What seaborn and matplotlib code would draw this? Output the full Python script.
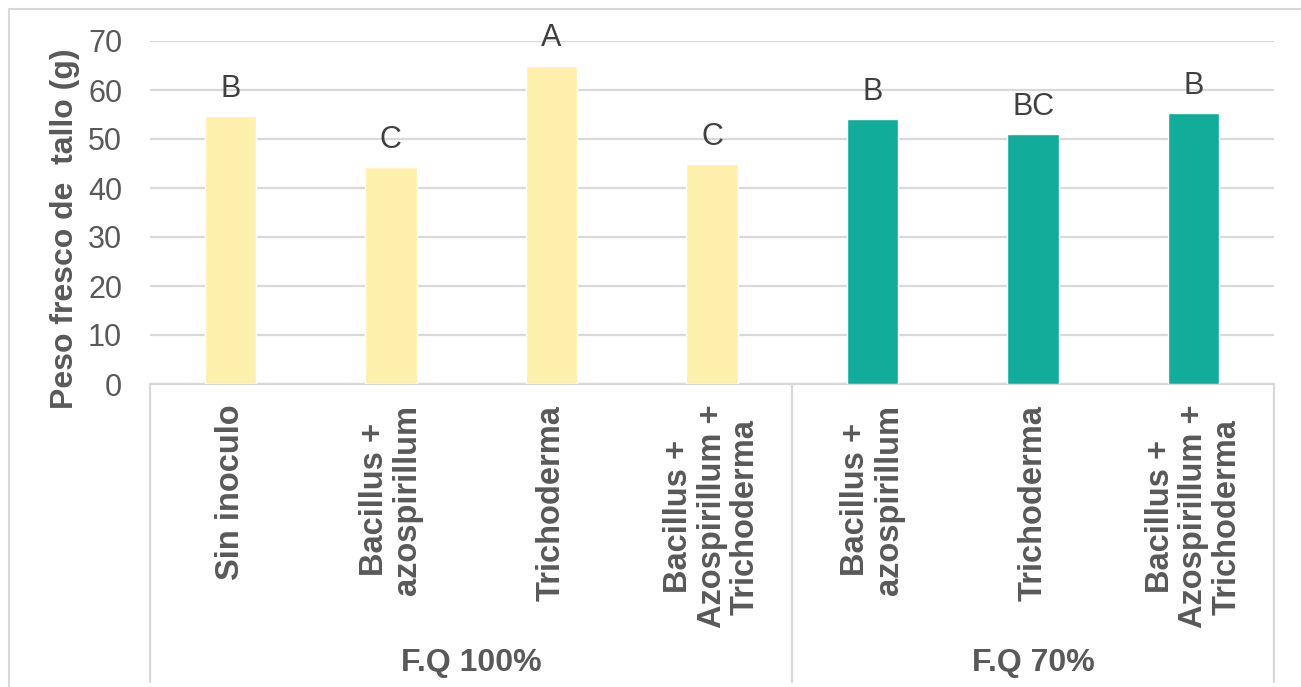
import matplotlib
matplotlib.use("Agg")
import matplotlib.pyplot as plt
import matplotlib.transforms as mtransforms
from matplotlib.patches import Rectangle
import seaborn as sns
import pandas as pd

# Treatments, fertilisation level and fresh stem weight (g)
treatments = [
    "Sin inoculo",
    "Bacillus +\nazospirillum",
    "Trichoderma",
    "Bacillus +\nAzospirillum +\nTrichoderma",
    "Bacillus +\nazospirillum",
    "Trichoderma",
    "Bacillus +\nAzospirillum +\nTrichoderma",
]
groups = ["F.Q 100%", "F.Q 100%", "F.Q 100%", "F.Q 100%", "F.Q 70%", "F.Q 70%", "F.Q 70%"]
peso = [54.7, 44.3, 65.0, 44.8, 54.1, 51.0, 55.3]
letras = ["B", "C", "A", "C", "B", "BC", "B"]
group_names = ["F.Q 100%", "F.Q 70%"]
y_ticks = [0, 10, 20, 30, 40, 50, 60, 70]

YELLOW = "#FFEFAD"
TEAL = "#12AC9A"
GRID = "#D9D9D9"
TXT = "#595959"
LETTER = "#404040"

df = pd.DataFrame({
    "pos": [str(i) for i in range(len(treatments))],
    "peso": peso,
    "grupo": groups,
})

sns.set_theme(style="white")
plt.rcParams["font.family"] = ["Liberation Sans", "DejaVu Sans"]

W, H = 1301, 687
fig = plt.figure(figsize=(W / 100, H / 100), dpi=100)
ax = fig.add_axes([150 / W, 1 - 384 / H, (1274 - 150) / W, (384 - 41) / H])

sns.barplot(
    data=df, x="pos", y="peso", hue="grupo", order=df["pos"].tolist(),
    hue_order=group_names, palette=[YELLOW, TEAL], dodge=False,
    width=0.32, saturation=1, legend=False, ax=ax, zorder=3,
)

ax.set_ylim(0, 70)
ax.set_xlim(-0.5, len(treatments) - 0.5)
ax.set_yticks(y_ticks)
ax.set_yticklabels([str(v) for v in y_ticks])
ax.yaxis.grid(True, color=GRID, linewidth=1.6, zorder=0)
ax.set_axisbelow(True)
for side in ["top", "right", "left"]:
    ax.spines[side].set_visible(False)
ax.spines["bottom"].set_color(GRID)
ax.spines["bottom"].set_linewidth(1.6)
ax.tick_params(axis="y", length=0, pad=20, labelsize=22, labelcolor=TXT)
ax.tick_params(axis="x", length=0, pad=15)

ax.set_xticks(range(len(treatments)))
ax.set_xticklabels(treatments, rotation=90, fontsize=23.5, fontweight="bold",
                   color=TXT, va="top", ha="center", linespacing=1.1)
for lab in ax.get_xticklabels():
    lab.set_multialignment("center")

ax.set_xlabel("")
ax.set_ylabel("Peso fresco de  tallo (g)", fontsize=23, fontweight="bold", color=TXT)
ax.yaxis.set_label_coords(-0.062, 0.452)

# Significance letters above each bar
for i, (v, l) in enumerate(zip(peso, letras)):
    ax.annotate(l, xy=(i, v), xytext=(0, 13.7), textcoords="offset points",
                ha="center", va="baseline", fontsize=22, color=LETTER)

# Group separators and group names beneath the category labels
trans = mtransforms.blended_transform_factory(ax.transData, ax.transAxes)
y_low = -(682 - 384) / 343
for xs in [-0.5, 3.5, len(treatments) - 0.5]:
    ax.plot([xs, xs], [0, y_low], color=GRID, linewidth=1.6,
            transform=trans, clip_on=False)
for name in group_names:
    idx = [i for i, g in enumerate(groups) if g == name]
    xc = (idx[0] + idx[-1]) / 2
    ax.text(xc, -(663 - 384) / 343, name, transform=trans, ha="center",
            va="center", fontsize=23, fontweight="bold", color=TXT)

# Chart frame
fig.patches.append(Rectangle((9 / W, -0.1), 1.2, 1 - 9 / H + 0.1,
                             transform=fig.transFigure, fill=False,
                             edgecolor=GRID, linewidth=1.5))

fig.savefig("out.png", dpi=100, facecolor="white")
